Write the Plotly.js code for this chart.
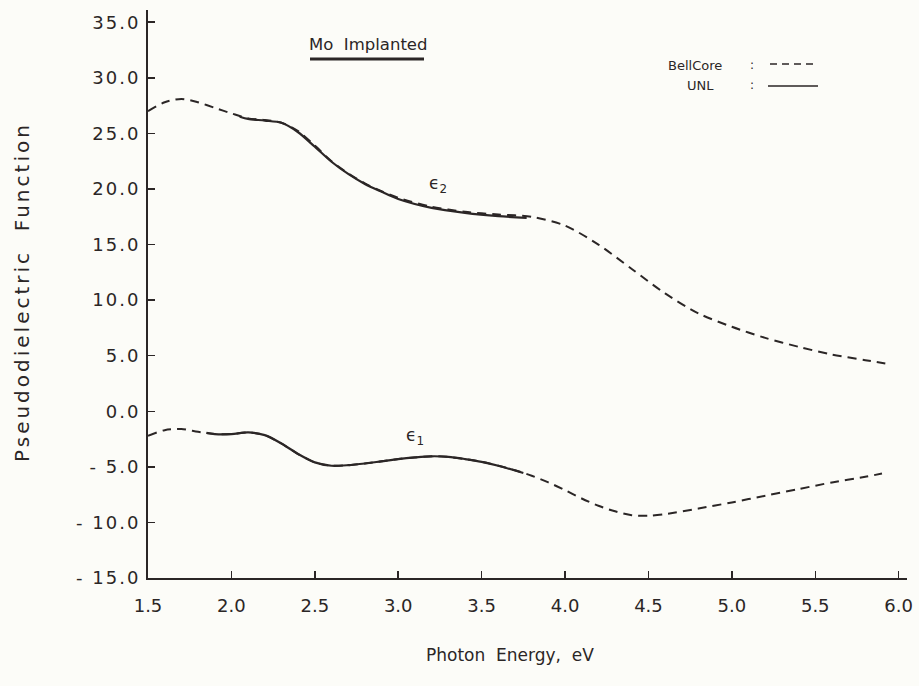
<!DOCTYPE html>
<html>
<head>
<meta charset="utf-8">
<script src="https://cdn.plot.ly/plotly-3.0.1.min.js"></script>
<style>html,body{margin:0;padding:0;background:#fcfcf8;}</style>
</head>
<body>
<div id="chart" style="width:919px;height:686px;"></div>
<script>
// BellCore (dashed) data
const bellE2X = [1.5, 1.6, 1.7, 1.8, 1.9, 2.0, 2.1, 2.2, 2.3, 2.4, 2.5, 2.6, 2.7, 2.8, 2.9, 3.0, 3.2, 3.4, 3.6, 3.8, 4.0, 4.2, 4.4, 4.6, 4.8, 5.0, 5.2, 5.4, 5.6, 5.8, 5.92];
const bellE2Y = [27.0, 27.8, 28.1, 27.8, 27.3, 26.8, 26.35, 26.2, 25.95, 25.2, 23.9, 22.5, 21.4, 20.5, 19.8, 19.2, 18.4, 17.95, 17.7, 17.5, 16.7, 15.0, 12.8, 10.6, 8.8, 7.6, 6.6, 5.8, 5.1, 4.6, 4.3];
const bellE1X = [1.5, 1.6, 1.7, 1.8, 1.9, 2.0, 2.1, 2.2, 2.3, 2.4, 2.5, 2.6, 2.7, 2.8, 2.9, 3.0, 3.1, 3.2, 3.3, 3.4, 3.5, 3.6, 3.7, 3.8, 3.9, 4.0, 4.1, 4.2, 4.3, 4.4, 4.5, 4.6, 4.8, 5.0, 5.2, 5.4, 5.6, 5.8, 5.9];
const bellE1Y = [-2.2, -1.7, -1.6, -1.85, -2.05, -2.05, -1.9, -2.15, -2.9, -3.85, -4.6, -4.9, -4.85, -4.7, -4.5, -4.3, -4.15, -4.05, -4.1, -4.3, -4.55, -4.9, -5.3, -5.8, -6.4, -7.1, -7.85, -8.5, -9.0, -9.35, -9.4, -9.25, -8.75, -8.2, -7.6, -7.0, -6.4, -5.9, -5.6];
// UNL (solid) data
const unlE2X = [2.05, 2.1, 2.2, 2.3, 2.4, 2.5, 2.6, 2.7, 2.8, 2.9, 3.0, 3.2, 3.4, 3.6, 3.77];
const unlE2Y = [26.5, 26.3, 26.15, 25.95, 25.1, 23.8, 22.45, 21.35, 20.45, 19.75, 19.1, 18.3, 17.85, 17.55, 17.4];
const unlE1X = [1.85, 1.9, 2.0, 2.1, 2.2, 2.3, 2.4, 2.5, 2.6, 2.7, 2.8, 2.9, 3.0, 3.1, 3.2, 3.3, 3.4, 3.5, 3.6, 3.75];
const unlE1Y = [-1.95, -2.05, -2.05, -1.9, -2.15, -2.9, -3.85, -4.6, -4.9, -4.85, -4.7, -4.5, -4.3, -4.15, -4.05, -4.1, -4.3, -4.55, -4.9, -5.55];
const xTicks = [1.5, 2.0, 2.5, 3.0, 3.5, 4.0, 4.5, 5.0, 5.5, 6.0];
const yTicks = [-15, -10, -5, 0, 5, 10, 15, 20, 25, 30, 35];
const yTickText = ['- 15.0', '- 10.0', '- 5.0', '0.0', '5.0', '10.0', '15.0', '20.0', '25.0', '30.0', '35.0'];

const ink = '#2b2626';
const fnt = 'DejaVu Sans, sans-serif';
const dashLine = {color: ink, width: 2, dash: '9px,6px', shape: 'spline', smoothing: 0.8};
const solidLine = {color: ink, width: 2.2, shape: 'spline', smoothing: 0.8};

const traces = [
  {x: bellE2X, y: bellE2Y, mode: 'lines', line: dashLine, name: 'BellCore ε2'},
  {x: bellE1X, y: bellE1Y, mode: 'lines', line: dashLine, name: 'BellCore ε1'},
  {x: unlE2X, y: unlE2Y, mode: 'lines', line: solidLine, name: 'UNL ε2'},
  {x: unlE1X, y: unlE1Y, mode: 'lines', line: solidLine, name: 'UNL ε1'}
];

const L = 148, W = 759, B = 578, H = 568;
const px = v => (v - L) / W;
const py = v => (B - v) / H;

const layout = {
  width: 919, height: 686,
  paper_bgcolor: '#fcfcf8', plot_bgcolor: '#fcfcf8',
  margin: {l: 148, r: 12, t: 10, b: 108},
  showlegend: false,
  font: {family: fnt, color: ink, size: 16},
  xaxis: {
    range: [1.5, 6.05], tickvals: xTicks, tickformat: '.1f',
    showgrid: false, zeroline: false, showline: true, linecolor: ink, linewidth: 2,
    ticks: 'inside', ticklen: 7, tickwidth: 1.5, tickcolor: ink,
    tickfont: {family: fnt, size: 18, color: ink}, ticklabelstandoff: 10
  },
  yaxis: {
    range: [-15, 36.1], tickvals: yTicks,
    ticktext: yTickText.map(t => '<span style="letter-spacing:2px">' + t + '</span>'),
    showgrid: false, zeroline: false, showline: true, linecolor: ink, linewidth: 2,
    ticks: 'inside', ticklen: 7, tickwidth: 1.5, tickcolor: ink,
    tickfont: {family: fnt, size: 18, color: ink}, ticklabelstandoff: 2
  },
  annotations: [
    {xref: 'paper', yref: 'paper', x: px(510), y: py(655), text: 'Photon  Energy,  eV', showarrow: false, font: {family: fnt, size: 17, color: ink}, xanchor: 'center', yanchor: 'middle'},
    {xref: 'paper', yref: 'paper', x: px(22), y: py(292), text: '<span style="letter-spacing:3px">Pseudodielectric  Function</span>', textangle: -90, showarrow: false, font: {family: fnt, size: 20, color: ink}, xanchor: 'center', yanchor: 'middle'},
    {xref: 'paper', yref: 'paper', x: px(368), y: py(44), text: 'Mo  Implanted', showarrow: false, font: {family: fnt, size: 16.5, color: ink}, xanchor: 'center', yanchor: 'middle'},
    {xref: 'paper', yref: 'paper', x: px(724), y: py(65), text: 'BellCore', showarrow: false, font: {family: fnt, size: 13, color: ink}, xanchor: 'right', yanchor: 'middle'},
    {xref: 'paper', yref: 'paper', x: px(716), y: py(85), text: 'UNL', showarrow: false, font: {family: fnt, size: 13, color: ink}, xanchor: 'right', yanchor: 'middle'},
    {xref: 'paper', yref: 'paper', x: px(752), y: py(65), text: ':', showarrow: false, font: {family: fnt, size: 12, color: ink}, xanchor: 'center', yanchor: 'middle'},
    {xref: 'paper', yref: 'paper', x: px(752), y: py(85), text: ':', showarrow: false, font: {family: fnt, size: 12, color: ink}, xanchor: 'center', yanchor: 'middle'},
    {x: 3.24, y: 20.4, text: 'ϵ<sub>2</sub>', showarrow: false, font: {family: fnt, size: 17, color: ink}},
    {x: 3.1, y: -2.3, text: 'ϵ<sub>1</sub>', showarrow: false, font: {family: fnt, size: 17, color: ink}}
  ],
  shapes: [
    {type: 'line', xref: 'paper', yref: 'paper', x0: px(310), x1: px(424), y0: py(59), y1: py(59), line: {color: ink, width: 3}},
    {type: 'line', xref: 'paper', yref: 'paper', x0: px(770), x1: px(818), y0: py(64), y1: py(64), line: {color: ink, width: 1.5, dash: '7px,5px'}},
    {type: 'line', xref: 'paper', yref: 'paper', x0: px(768), x1: px(818), y0: py(86), y1: py(86), line: {color: ink, width: 1.5}}
  ]
};

Plotly.newPlot('chart', traces, layout, {displayModeBar: false, staticPlot: true});
</script>
</body>
</html>
